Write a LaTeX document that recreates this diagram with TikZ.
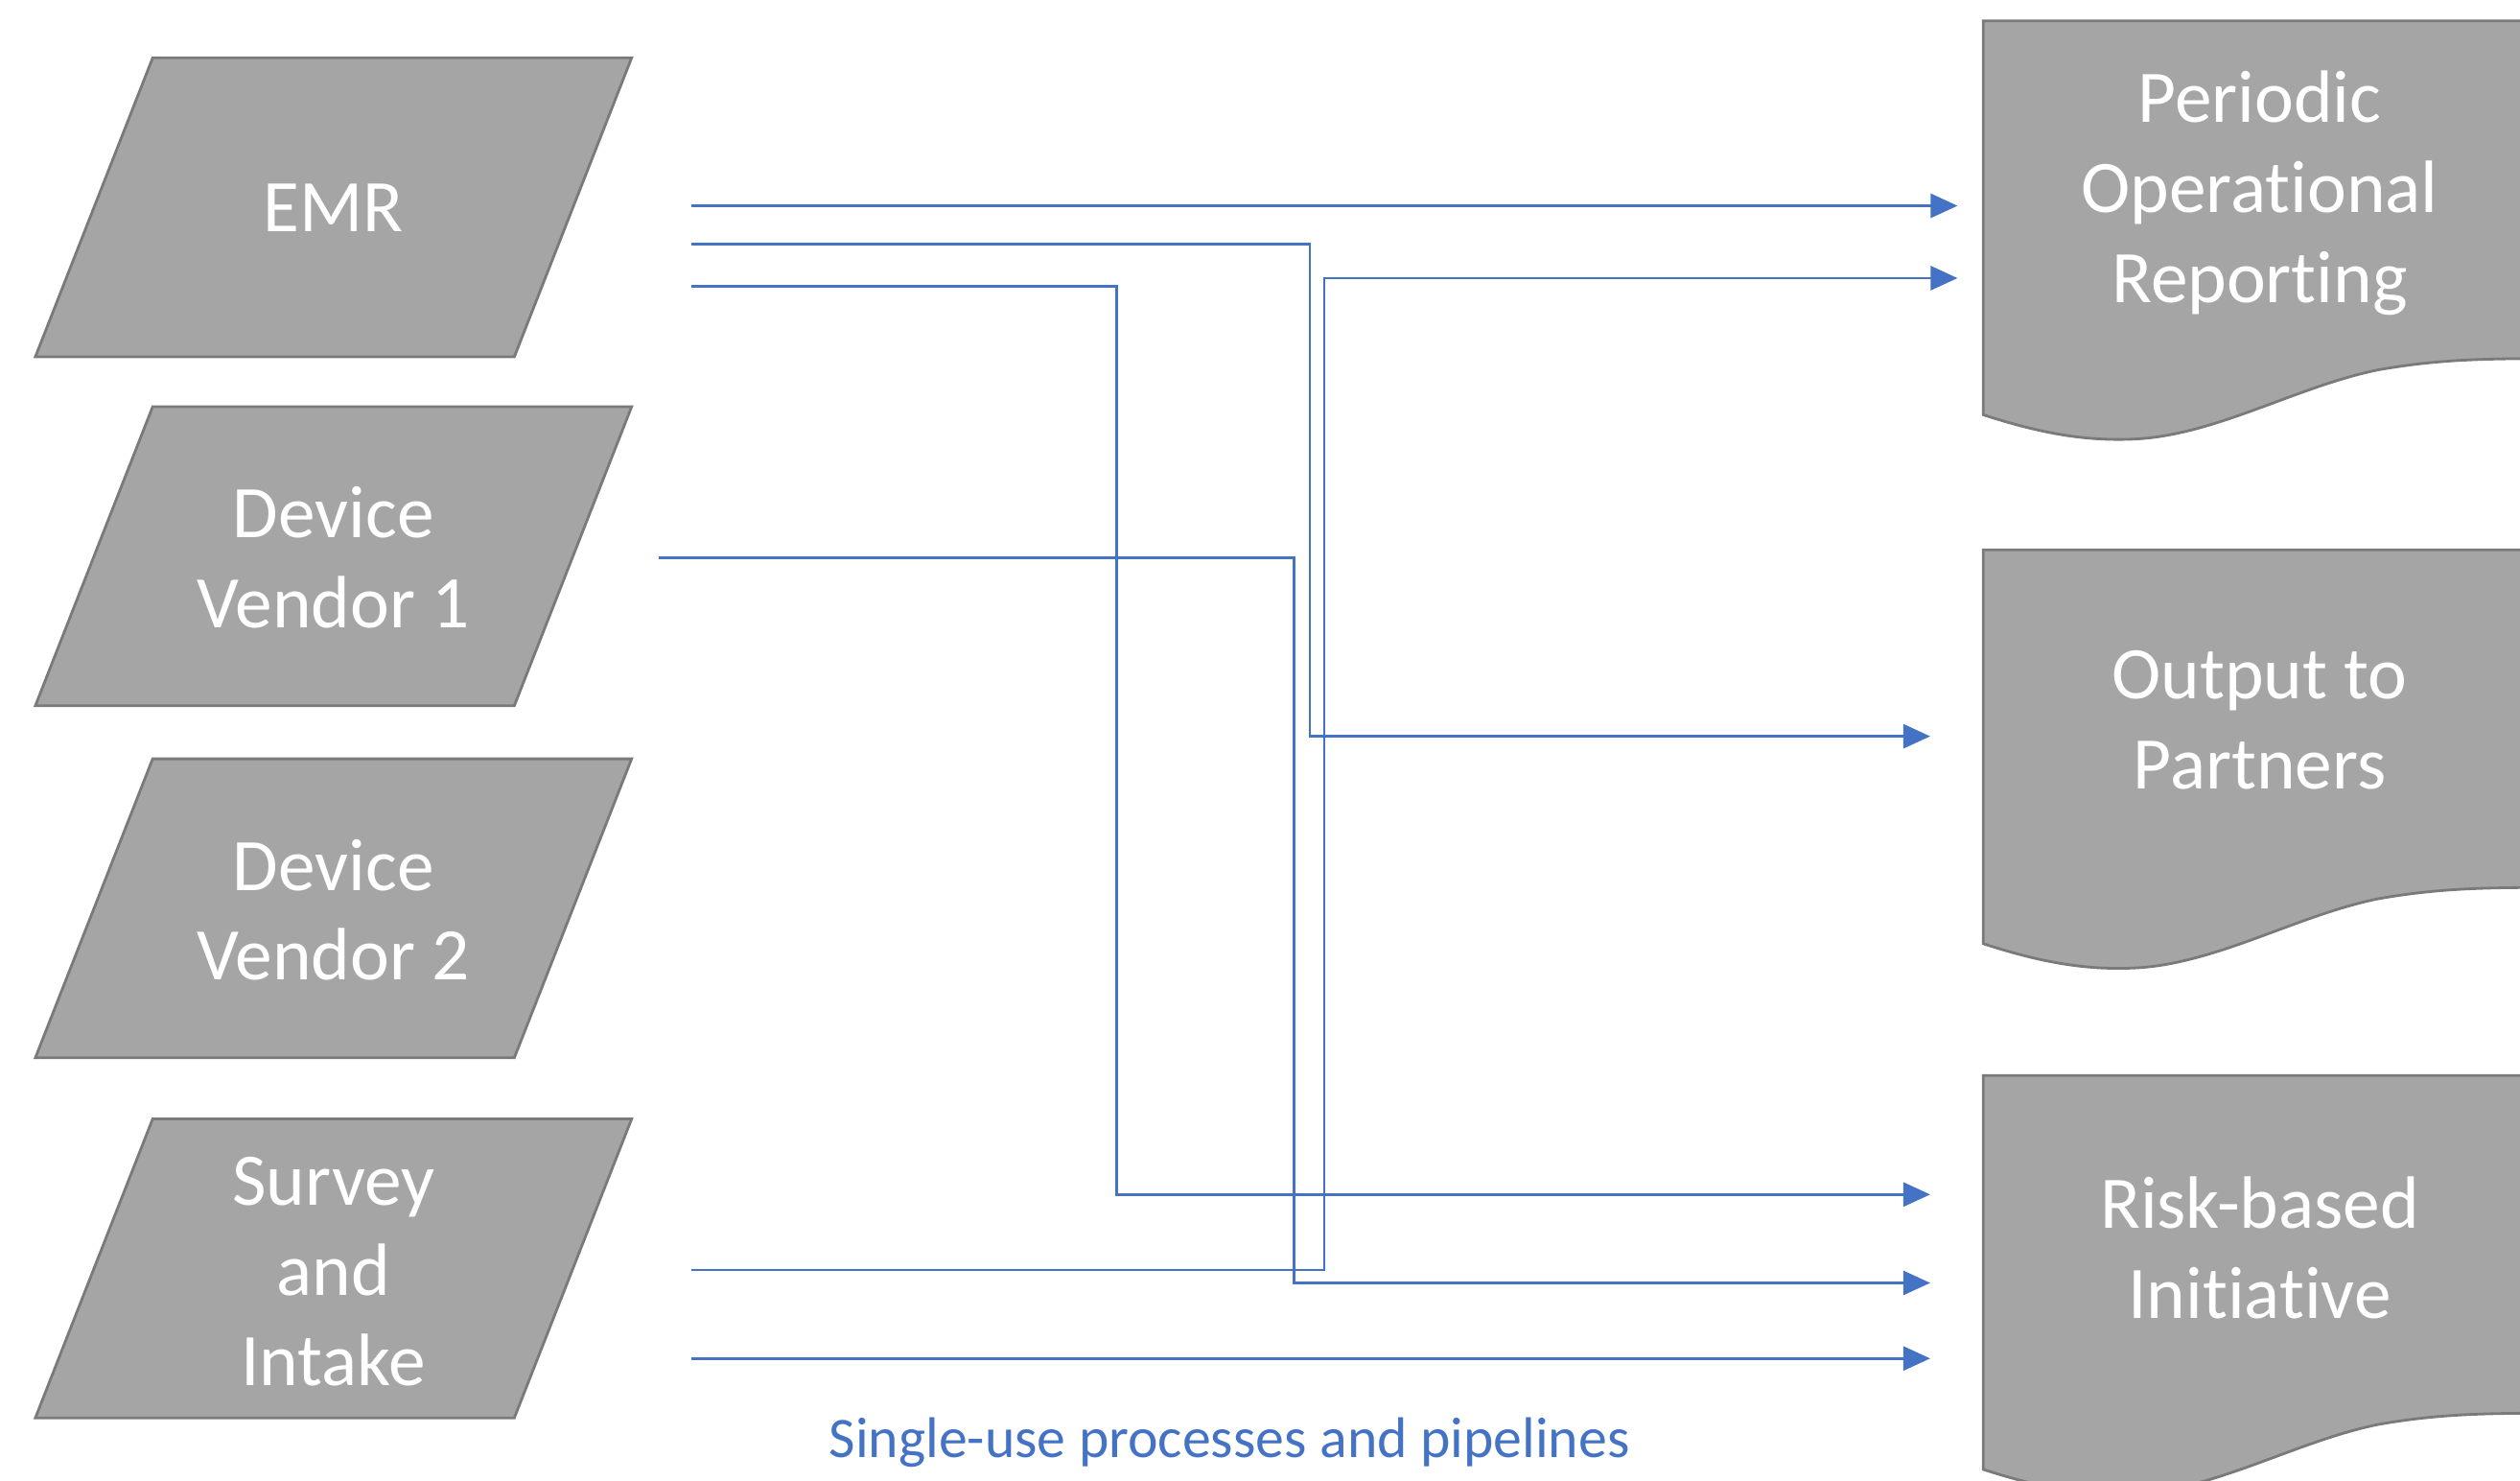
\documentclass[tikz,border=0pt]{standalone}
\usepackage{fontspec}
\setmainfont{Carlito}[Ligatures=CommonOff]
\usetikzlibrary{arrows.meta}
\definecolor{boxgray}{HTML}{A5A5A5}
\definecolor{boxedge}{HTML}{7A7A7A}
\definecolor{flowblue}{HTML}{4472C4}
\tikzset{
  inshape/.style={fill=boxgray, draw=boxedge, line width=0.8pt},
  intext/.style={text=white, align=center, font=\fontsize{22}{26.7}\selectfont},
  docshape/.style={fill=boxgray, draw=boxedge, line width=0.8pt},
  doctext/.style={text=white, align=center, font=\fontsize{22}{26.7}\selectfont},
  flow/.style={draw=flowblue, line width=0.8pt, -{Triangle[length=0.28cm,width=0.25cm]}},
  note/.style={text=flowblue, font=\fontsize{17}{20}\selectfont},
}
\begin{document}
\begin{tikzpicture}[x=0.01676cm, y=-0.01676cm]
\clip (0,0) rectangle (1568,921);
\fill[white] (0,0) rectangle (1568,921);

% input parallelograms
\foreach \ty in {36,253,472,696}{
  \path[inshape] (95,\ty) -- (393,\ty) -- (320,\ty+186) -- (22,\ty+186) -- cycle;
}
\node[intext] (emr) at (207.5,129) {EMR};
\node[intext] (dv1) at (207.5,347) {Device\\Vendor 1};
\node[intext] (dv2) at (207.5,566) {Device\\Vendor 2};
\node[intext] (sur) at (207.5,791) {Survey\\and\\Intake};

% document shapes
\foreach \dy in {0,329,656}{
  \begin{scope}[shift={(0,\dy)}]
    \path[docshape] (1234,13) -- (1600,13) -- (1600,223)
      .. controls (1550,223) and (1520,223) .. (1480,230)
      .. controls (1430,240) and (1380,270) .. (1330,273)
      .. controls (1295,275) and (1265,268) .. (1234,258) -- cycle;
  \end{scope}
}
\node[doctext] (por) at (1406,120) {Periodic\\Operational\\Reporting};
\node[doctext] (otp) at (1406,448) {Output to\\Partners};
\node[doctext] (rbi) at (1406,776) {Risk-based\\Initiative};

% connector end points
\coordinate (emrA) at (430,128);
\coordinate (emrB) at (430,152);
\coordinate (emrC) at (430,178);
\coordinate (dv1A) at (410,347);
\coordinate (surA) at (430,790);
\coordinate (surB) at (430,845);
\coordinate (porA) at (1218,128);
\coordinate (porB) at (1218,173);
\coordinate (otpA) at (1201,458);
\coordinate (rbiA) at (1201,743);
\coordinate (rbiB) at (1201,798);
\coordinate (rbiC) at (1201,845);

\draw[flow] (emrA) -- (porA);
\draw[flow] (emrB) -- ++(385,0) |- (otpA);
\draw[flow] (emrC) -- ++(265,0) |- (rbiA);
\draw[flow] (dv1A) -- ++(395,0) |- (rbiB);
\draw[flow] (surA) -- ++(394,0) |- (porB);
\draw[flow] (surB) -- (rbiC);

\node[note] (lbl) at (765,897) {Single-use processes and pipelines};
\end{tikzpicture}
\end{document}
